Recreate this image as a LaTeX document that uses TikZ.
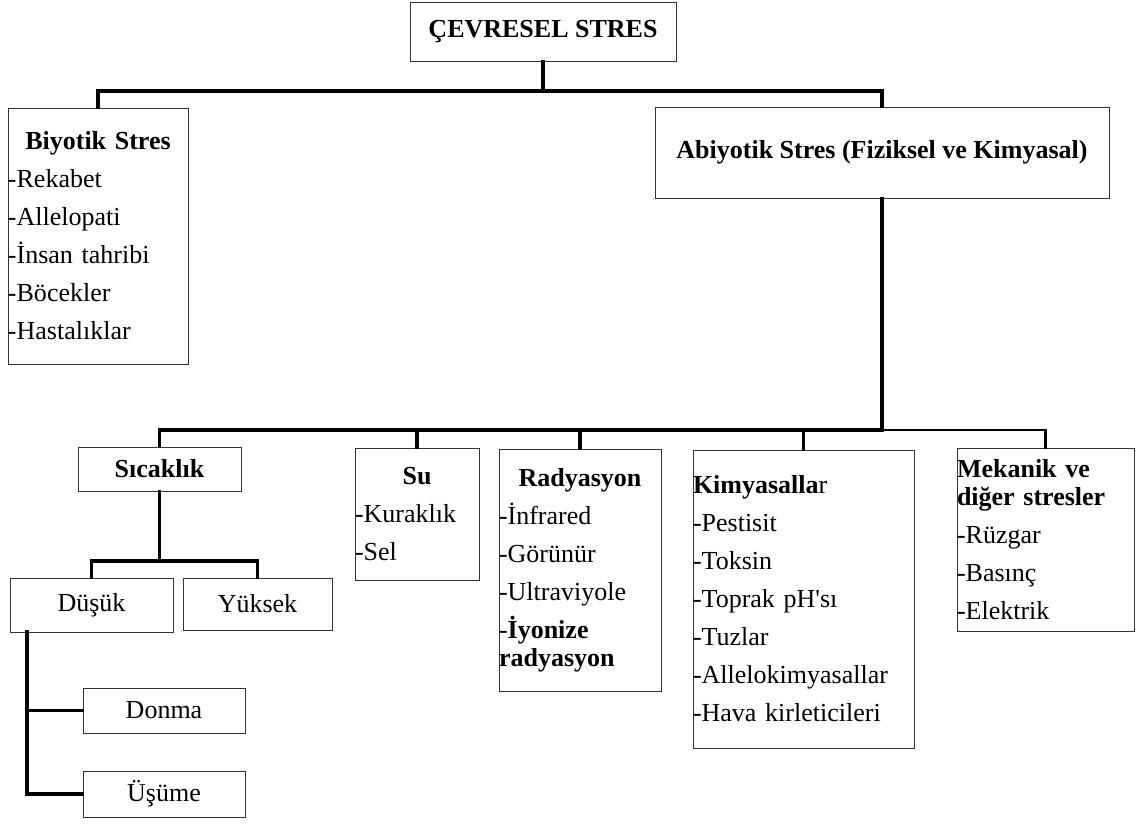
\documentclass[tikz,border=0pt]{standalone}
\usepackage{fontspec}
\setmainfont{Liberation Serif}
\usetikzlibrary{positioning,calc}

\tikzset{
  kutu/.style={draw=black!80, line width=0.9pt, inner sep=0pt, align=left,
    font=\fontsize{26}{28}\selectfont},
  baslik/.style={kutu, align=center, font=\fontsize{26}{28}\selectfont\bfseries},
  yaprak/.style={kutu, align=center},
  bag/.style={line width=3.5pt, line cap=rect}
}
\newcommand{\ortala}[1]{\makebox[\linewidth]{#1}}

\begin{document}
\begin{tikzpicture}[x=1pt,y=-1pt]
  \useasboundingbox (0,0) rectangle (1137,823);
  % ust seviye
  \node[baslik, minimum width=266, minimum height=59] (cevre) at (543,31.5) {ÇEVRESEL STRES};
  \node[kutu, text width=180pt, minimum height=256] (biyotik) at (98,236)
    {\ortala{\textbf{Biyotik Stres}}\\[10pt] -Rekabet\\[10pt] -Allelopati\\[10pt] -İnsan tahribi\\[10pt] -Böcekler\\[10pt] -Hastalıklar};
  \node[baslik, minimum width=454, minimum height=91] (abiyotik) at (882,152.5) {Abiyotik Stres (Fiziksel ve Kimyasal)};
  % abiyotik alt gruplar
  \node[baslik, minimum width=163, minimum height=44] (sicaklik) at (159.5,469) {Sıcaklık};
  \node[kutu, text width=124pt, minimum height=132] (su) at (417,514)
    {\ortala{\textbf{Su}}\\[10pt] -Kuraklık\\[10pt] -Sel};
  \node[kutu, text width=162pt, minimum height=242] (radyasyon) at (580,570)
    {\ortala{\textbf{Radyasyon}}\\[10pt] -İnfrared\\[10pt] -Görünür\\[10pt] -Ultraviyole\\[10pt] -\textbf{İyonize}\\ \textbf{radyasyon}};
  \node[kutu, text width=221pt, minimum height=298] (kimya) at (803.5,599)
    {\textbf{Kimyasalla}r\\[10pt] -Pestisit\\[10pt] -Toksin\\[10pt] -Toprak pH\textquotesingle sı\\[10pt] -Tuzlar\\[10pt] -Allelokimyasallar\\[10pt] -Hava kirleticileri};
  \node[kutu, text width=177pt, minimum height=183] (mekanik) at (1045.5,539.5)
    {\textbf{Mekanik ve}\\ \textbf{diğer stresler}\\[10pt] -Rüzgar\\[10pt] -Basınç\\[10pt] -Elektrik};
  % sicaklik dallari
  \node[yaprak, minimum width=163, minimum height=54] (dusuk) at (91.5,605) {Düşük};
  \node[yaprak, minimum width=149, minimum height=52] (yuksek) at (257.5,604) {Yüksek};
  \node[yaprak, minimum width=162, minimum height=45] (donma) at (164,710.5) {Donma};
  \node[yaprak, minimum width=162, minimum height=46] (usume) at (164,794) {Üşüme};

  % baglantilar
  \coordinate (ust) at (543,91);
  \coordinate (alt) at (882,430);
  \coordinate (sicakbag) at (159.5,561);
  \coordinate (govde) at (27,632);
  \draw[bag] (cevre) -- (ust);
  \draw[bag] (biyotik.north) |- (ust) -| (abiyotik.north);
  \draw[bag] (abiyotik) -- (alt);
  \draw[bag] (sicaklik.north) |- (alt);
  \draw[line width=2.5pt, line cap=rect] (alt) -| (mekanik.north);
  \foreach \n in {su,radyasyon,kimya}
    \draw[bag] (\n.north) -- (\n.north |- alt);
  \draw[bag] (sicaklik) -- (sicakbag);
  \draw[bag] (dusuk.north) |- (sicakbag) -| (yuksek.north);
  \draw[bag] (donma.west) -| (govde);
  \draw[bag] (usume.west) -| (govde);
\end{tikzpicture}
\end{document}
